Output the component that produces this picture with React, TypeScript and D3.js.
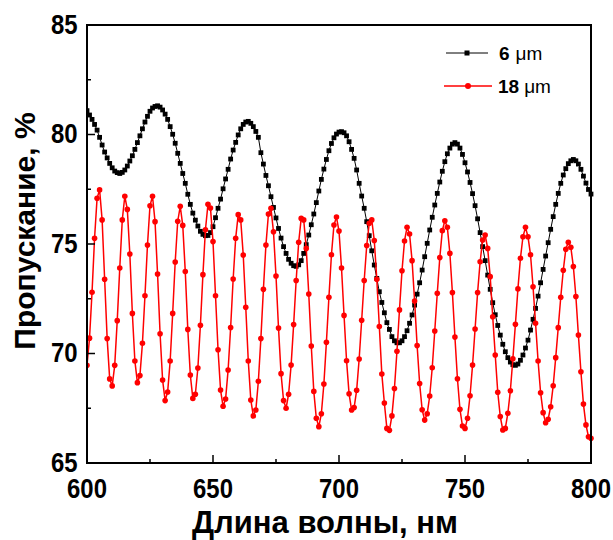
import React from "react";
import * as d3 from "d3";

const WL_START = 600;
const WL_END = 800;

const black6: number[] = [
  81.09, 80.89, 80.69, 80.46, 80.2, 79.87, 79.52, 79.2, 78.93, 78.68,
  78.48, 78.33, 78.26, 78.22, 78.27, 78.38, 78.56, 78.79, 79.03, 79.32,
  79.63, 79.94, 80.26, 80.57, 80.83, 81.06, 81.21, 81.28, 81.31, 81.25,
  81.12, 80.93, 80.69, 80.36, 80.01, 79.6, 79.14, 78.68, 78.22, 77.77,
  77.27, 76.81, 76.41, 76.09, 75.82, 75.58, 75.44, 75.38, 75.39, 75.52,
  75.79, 76.2, 76.63, 77.05, 77.52, 77.97, 78.41, 78.88, 79.29, 79.64,
  79.98, 80.26, 80.46, 80.57, 80.6, 80.51, 80.36, 80.14, 79.87, 79.17,
  78.65, 78.13, 77.66, 77.16, 76.67, 76.19, 75.71, 75.27, 74.88, 74.57,
  74.3, 74.12, 74.01, 73.98, 74.05, 74.24, 74.57, 74.97, 75.41, 75.88,
  76.37, 76.89, 77.42, 77.95, 78.42, 78.86, 79.26, 79.59, 79.85, 80.02,
  80.11, 80.13, 80.08, 79.94, 79.67, 79.32, 78.91, 78.38, 77.77, 77.19,
  76.63, 76.02, 75.38, 74.69, 74.04, 73.43, 72.82, 72.33, 71.86, 71.41,
  71.1, 70.77, 70.58, 70.49, 70.49, 70.58, 70.77, 71.04, 71.38, 71.76,
  72.21, 72.71, 73.23, 73.81, 74.42, 75.03, 75.64, 76.22, 76.78, 77.31,
  77.83, 78.32, 78.76, 79.12, 79.38, 79.56, 79.63, 79.56, 79.38, 79.09,
  78.71, 78.29, 77.81, 77.3, 76.75, 76.15, 75.52, 74.88, 74.24, 73.58,
  72.93, 72.32, 71.77, 71.28, 70.84, 70.42, 70.08, 69.81, 69.61, 69.49,
  69.46, 69.52, 69.69, 69.93, 70.25, 70.61, 71.07, 71.56, 72.06, 72.62,
  73.23, 73.84, 74.45, 75.06, 75.67, 76.25, 76.81, 77.31, 77.77, 78.15,
  78.44, 78.67, 78.8, 78.86, 78.8, 78.65, 78.41, 78.1, 77.78, 77.49,
  77.28,
];

const red18: number[] = [
  69.46, 70.7, 72.8, 75.26, 77.09, 77.47, 76.1, 73.39, 70.68, 68.84,
  68.52, 69.46, 71.5, 73.9, 76.1, 77.18, 76.58, 74.54, 71.83, 69.66,
  68.67, 68.99, 70.47, 72.64, 74.95, 76.75, 77.18, 76.02, 73.63, 70.9,
  68.79, 67.85, 68.24, 69.66, 71.83, 74.18, 76.04, 76.72, 75.85, 73.74,
  71.1, 69.02, 67.95, 68.14, 69.34, 71.29, 73.6, 75.65, 76.81, 76.64,
  75.11, 72.64, 70.17, 68.33, 67.59, 67.92, 69.25, 71.19, 73.4, 75.26,
  76.34, 76.1, 74.5, 72.11, 69.66, 67.88, 67.15, 67.42, 68.73, 70.68,
  72.93, 74.95, 76.37, 76.63, 75.56, 73.54, 71.16, 69.08, 67.85, 67.5,
  68.14, 69.47, 71.32, 73.33, 75.08, 76.17, 76.1, 74.8, 72.72, 70.34,
  68.27, 67.04, 66.66, 67.25, 68.61, 70.51, 72.57, 74.51, 75.87, 76.23,
  75.59, 73.9, 71.74, 69.67, 68.16, 67.42, 67.53, 68.32, 69.75, 71.52,
  73.33, 74.93, 75.95, 76.1, 75.16, 73.39, 71.23, 69.06, 67.74, 66.58,
  66.49, 67.15, 68.4, 70.1, 71.99, 73.78, 75.14, 75.76, 75.46, 74.24,
  72.4, 70.36, 68.63, 67.43, 66.96, 67.25, 68.06, 69.35, 71.03, 72.75,
  74.38, 75.61, 76.06, 75.76, 74.57, 72.78, 70.75, 68.85, 67.45, 66.69,
  66.58, 67.04, 68.07, 69.47, 71.12, 72.78, 74.19, 75.18, 75.41, 74.8,
  73.51, 71.68, 69.93, 68.23, 67.12, 66.51, 66.58, 67.27, 68.3, 69.76,
  71.33, 72.95, 74.35, 75.33, 75.76, 75.33, 74.51, 73.05, 71.38, 69.66,
  68.21, 67.3, 66.84, 67.0, 67.57, 68.53, 69.81, 71.18, 72.57, 73.8,
  74.76, 75.08, 74.85, 73.97, 72.6, 70.84, 69.17, 67.69, 66.74, 66.2,
  66.13,
];

const xTickValues = [600, 650, 700, 750, 800];
const xMinorTicks = [625, 675, 725, 775];
const yTickValues = [65, 70, 75, 80, 85];
const yMinorTicks = [67.5, 72.5, 77.5, 82.5];

const xTitle = "Длина волны, нм";
const yTitle = "Пропускание, %";
const legendLabels = ["6", "18"];
const legendUnit = "μm";

const W = 613;
const H = 540;
const M = { left: 87, right: 591, top: 25, bottom: 463 };
const FONT = "'Liberation Sans', Arial, sans-serif";
const TICK_FS = 27.5;
const TICK_SX = 0.87;

export default function App() {
  const wl = d3.range(WL_START, WL_END + 1);
  const x = d3.scaleLinear().domain([600, 800]).range([M.left, M.right]);
  const y = d3.scaleLinear().domain([65, 85]).range([M.bottom, M.top]);

  const blackPts = black6.map((v, i) => [wl[i], v] as [number, number]);
  const redPts = red18.map((v, i) => [wl[i], v] as [number, number]);
  const line = d3
    .line<[number, number]>()
    .x((d) => x(d[0]))
    .y((d) => y(d[1]));

  return (
    <svg
      width={W}
      height={H}
      style={{ position: "absolute", left: 0, top: 0, background: "#fff" }}
      fontFamily={FONT}
    >
      <defs>
        <clipPath id="plotclip">
          <rect x={M.left} y={M.top - 4} width={M.right - M.left + 4} height={M.bottom - M.top + 8} />
        </clipPath>
      </defs>

      {/* series */}
      <g clipPath="url(#plotclip)">
        <path d={line(blackPts) || ""} fill="none" stroke="#000" strokeWidth={1} />
        {blackPts.map((d, i) => (
          <rect key={"b" + i} x={x(d[0]) - 2.4} y={y(d[1]) - 2.4} width={4.8} height={4.8} fill="#000" />
        ))}
        <path d={line(redPts) || ""} fill="none" stroke="#ff0000" strokeWidth={1.5} />
        {redPts.map((d, i) => (
          <circle key={"r" + i} cx={x(d[0])} cy={y(d[1])} r={2.8} fill="#ff0000" />
        ))}
      </g>

      {/* frame */}
      <rect
        x={M.left}
        y={M.top}
        width={M.right - M.left}
        height={M.bottom - M.top}
        fill="none"
        stroke="#000"
        strokeWidth={2}
      />

      {/* x ticks */}
      {xTickValues.map((t) => (
        <g key={"xt" + t}>
          <line x1={x(t)} x2={x(t)} y1={M.bottom} y2={M.bottom - 8} stroke="#000" strokeWidth={1.5} />
          <text
            transform={`translate(${x(t)}, 498) scale(${TICK_SX}, 1)`}
            textAnchor="middle"
            fontSize={TICK_FS}
            fontWeight="bold"
          >
            {t}
          </text>
        </g>
      ))}
      {xMinorTicks.map((t) => (
        <line key={"xm" + t} x1={x(t)} x2={x(t)} y1={M.bottom} y2={M.bottom - 4} stroke="#000" strokeWidth={1.5} />
      ))}

      {/* y ticks */}
      {yTickValues.map((t) => (
        <g key={"yt" + t}>
          <line x1={M.left} x2={M.left + 8} y1={y(t)} y2={y(t)} stroke="#000" strokeWidth={1.5} />
          <text
            transform={`translate(77.5, ${y(t) + 8.5}) scale(${TICK_SX}, 1)`}
            textAnchor="end"
            fontSize={TICK_FS}
            fontWeight="bold"
          >
            {t}
          </text>
        </g>
      ))}
      {yMinorTicks.map((t) => (
        <line key={"ym" + t} x1={M.left} x2={M.left + 4} y1={y(t)} y2={y(t)} stroke="#000" strokeWidth={1.5} />
      ))}

      {/* axis titles */}
      <text x={325} y={533} textAnchor="middle" fontSize={31} fontWeight="bold">
        {xTitle}
      </text>
      <text
        transform={`translate(35, 231) rotate(-90)`}
        textAnchor="middle"
        fontSize={30}
        fontWeight="bold"
      >
        {yTitle}
      </text>

      {/* legend */}
      <g>
        <line x1={446} x2={488} y1={53} y2={53} stroke="#000" strokeWidth={1} />
        <rect x={467 - 2.5} y={53 - 2.5} width={5} height={5} fill="#000" />
        <text x={499} y={60} fontSize={19}>
          <tspan fontWeight="bold">{legendLabels[0]}</tspan>
          <tspan dx={6}>{legendUnit}</tspan>
        </text>
        <line x1={444} x2={492} y1={86} y2={86} stroke="#ff0000" strokeWidth={1.5} />
        <circle cx={468} cy={86} r={3} fill="#ff0000" />
        <text x={498} y={93} fontSize={19}>
          <tspan fontWeight="bold">{legendLabels[1]}</tspan>
          <tspan dx={5}>{legendUnit}</tspan>
        </text>
      </g>
    </svg>
  );
}
